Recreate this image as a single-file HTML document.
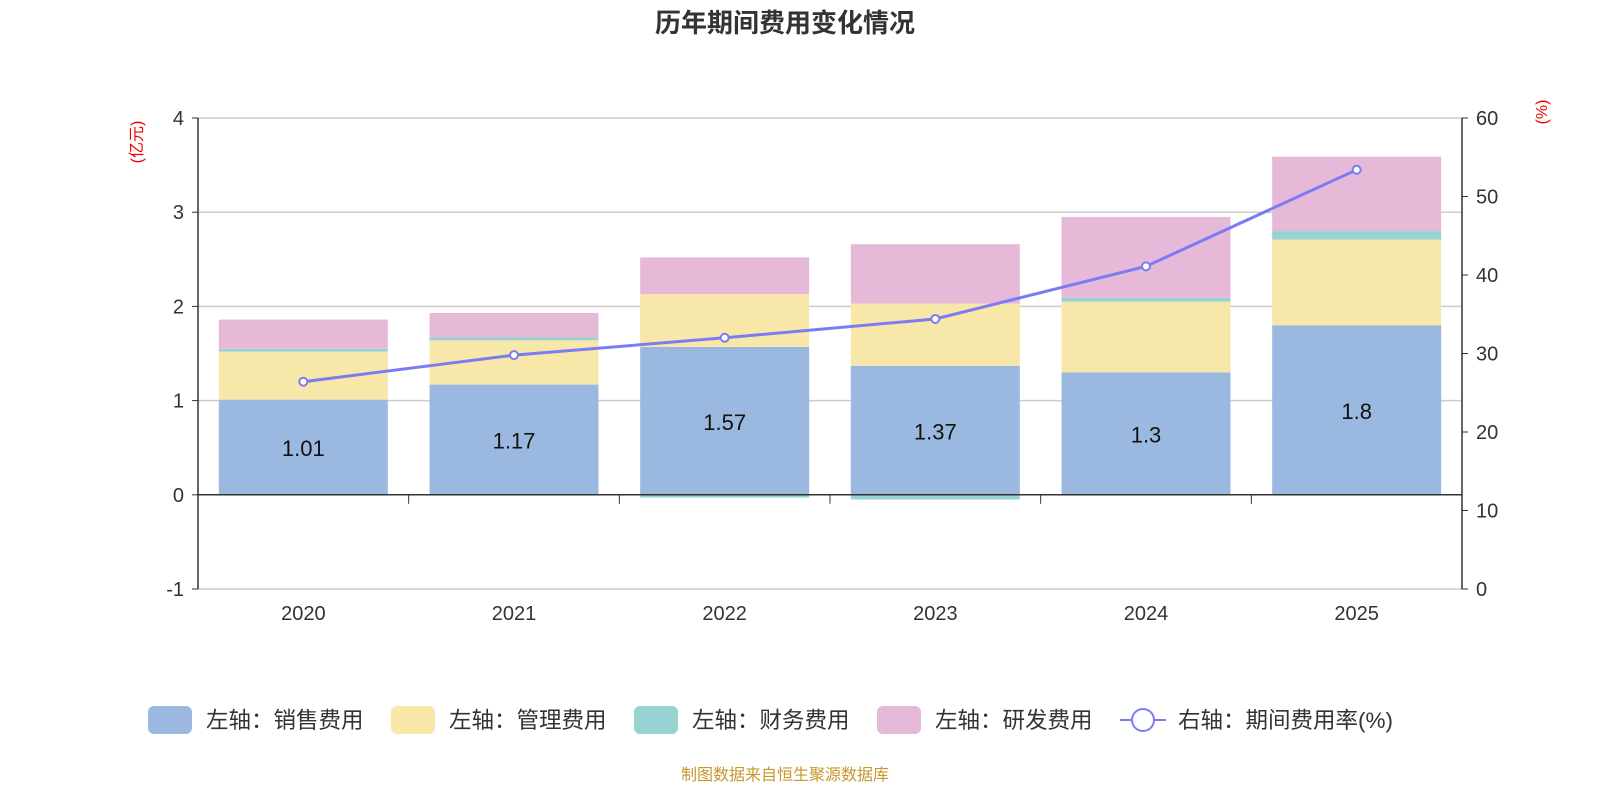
<!DOCTYPE html>
<html><head><meta charset="utf-8"><style>
body{margin:0;background:#fff;}
svg{display:block;font-family:"Liberation Sans","Noto Sans CJK SC",sans-serif;}
</style></head><body>
<svg id="c" width="1600" height="800"></svg>
<script>
const categories=['2020','2021','2022','2023','2024','2025'];
const sales=[1.01,1.17,1.57,1.37,1.3,1.8];
const mgmt=[0.51,0.47,0.56,0.66,0.75,0.91];
const fin=[0.03,0.03,-0.03,-0.05,0.04,0.09];
const rd=[0.31,0.26,0.39,0.63,0.86,0.79];
const rate=[26.4,29.8,32.0,34.4,41.1,53.4];
const leftTicks=[-1,0,1,2,3,4];
const rightTicks=[0,10,20,30,40,50,60];
const svg=document.getElementById('c');
const NS='http://www.w3.org/2000/svg';
function mk(t,a,txt){const e=document.createElementNS(NS,t);for(const k in a)e.setAttribute(k,a[k]);if(txt!==undefined)e.textContent=txt;svg.appendChild(e);return e;}
const X0=198,X1=1462,TOP=118,BOT=589;
const yL=v=>BOT-(v+1)/5*(BOT-TOP);
const yR=v=>BOT-v/60*(BOT-TOP);
const bw=(X1-X0)/categories.length;
const xc=i=>X0+bw*(i+0.5);
let e;
e=mk('text',{x:785,y:32,'text-anchor':'middle','font-size':26,'font-weight':'bold',fill:'#333'},'历年期间费用变化情况');

leftTicks.forEach(t=>{
 if(t!==0){e=mk('line',{x1:X0,x2:X1,y1:yL(t),y2:yL(t),stroke:'#ccc','stroke-width':1.5});}
 e=mk('text',{x:184,y:yL(t)+7,'text-anchor':'end','font-size':20,fill:'#333'},String(t));
 
 mk('line',{x1:X0-6,x2:X0,y1:yL(t),y2:yL(t),stroke:'#333'});
});
rightTicks.forEach(t=>{
 e=mk('text',{x:1476,y:yR(t)+7,'font-size':20,fill:'#333'},String(t));
 
 mk('line',{x1:X1,x2:X1+6,y1:yR(t),y2:yR(t),stroke:'#333'});
});
mk('line',{x1:X0,x2:X0,y1:TOP,y2:BOT,stroke:'#333','stroke-width':1.5});
mk('line',{x1:X1,x2:X1,y1:TOP,y2:BOT,stroke:'#333','stroke-width':1.5});
e=mk('text',{x:0,y:0,transform:'translate(142,142) rotate(-90)','text-anchor':'middle','font-size':16,fill:'#e00'},'(亿元)');

e=mk('text',{x:0,y:0,transform:'translate(1547,112) rotate(-90)','text-anchor':'middle','font-size':16,fill:'#e00'},'(%)');

const series=[[sales,'#9bb8e0','sales'],[mgmt,'#f7e7a8','mgmt'],[fin,'#97d3d3','fin'],[rd,'#e7b9d8','rd']];
const bwid=169;
categories.forEach((c,i)=>{
 let pos=0,neg=0;
 series.forEach(([arr,col,nm])=>{
  const v=arr[i];let y0,y1;
  if(v>=0){y0=pos;y1=pos+v;pos=y1;}else{y0=neg;y1=neg+v;neg=y1;}
  const top=Math.min(yL(y0),yL(y1)),h=Math.abs(yL(y0)-yL(y1));
  e=mk('rect',{x:xc(i)-bwid/2,y:top,width:bwid,height:h,fill:col});
  
 });
 e=mk('text',{x:xc(i),y:(yL(0)+yL(sales[i]))/2+9,'text-anchor':'middle','font-size':22,fill:'#111'},String(sales[i]));
 
 e=mk('text',{x:xc(i),y:620,'text-anchor':'middle','font-size':20,fill:'#333'},c);
 
});
mk('line',{x1:X0,x2:X1,y1:yL(0),y2:yL(0),stroke:'#333','stroke-width':1.5});
for(let i=0;i<=categories.length;i++)mk('line',{x1:X0+bw*i,x2:X0+bw*i,y1:yL(0),y2:yL(0)+9,stroke:'#333'});
e=mk('polyline',{points:rate.map((v,i)=>xc(i)+','+yR(v)).join(' '),fill:'none',stroke:'#7b7cf4','stroke-width':3});

rate.forEach((v,i)=>{e=mk('circle',{cx:xc(i),cy:yR(v),r:4,fill:'#fff',stroke:'#7b7cf4','stroke-width':2});
 });
const leg=[['左轴：销售费用','#9bb8e0',148],['左轴：管理费用','#f7e7a8',391],['左轴：财务费用','#97d3d3',634],['左轴：研发费用','#e7b9d8',877]];
leg.forEach(([t,c,x])=>{
 e=mk('rect',{x:x,y:706,width:44,height:28,rx:6,fill:c});
 e=mk('text',{x:x+58,y:728,'font-size':22.5,fill:'#333'},t);
});
mk('line',{x1:1120,x2:1166,y1:720,y2:720,stroke:'#7b7cf4','stroke-width':2});
e=mk('circle',{cx:1143,cy:720,r:11,fill:'#fff',stroke:'#7b7cf4','stroke-width':2});
e=mk('text',{x:1178,y:728,'font-size':22.5,fill:'#333'},'右轴：期间费用率(%)');
e=mk('text',{x:785,y:780,'text-anchor':'middle','font-size':16,fill:'#c8962a'},'制图数据来自恒生聚源数据库');

</script>
</body></html>
